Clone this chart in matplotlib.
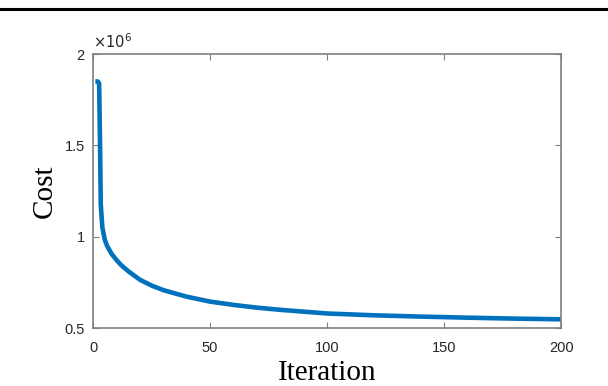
import matplotlib.pyplot as plt
from matplotlib.lines import Line2D
from matplotlib.ticker import FuncFormatter

# cost per iteration
iterations = [1, 2, 2.6, 3, 3.3, 3.6, 4, 5, 6, 8, 10, 12, 15, 20, 25, 30, 40,
              50, 60, 70, 80, 90, 100, 120, 140, 160, 180, 200]
cost = [1.85e6, 1.85e6, 1.84e6, 1.50e6, 1.18e6, 1.12e6, 1.05e6, 0.985e6,
        0.95e6, 0.905e6, 0.873e6, 0.845e6, 0.812e6, 0.765e6, 0.733e6,
        0.708e6, 0.672e6, 0.645e6, 0.627e6, 0.612e6, 0.600e6, 0.590e6,
        0.580e6, 0.570e6, 0.563e6, 0.557e6, 0.552e6, 0.548e6]

x_ticks = [0, 50, 100, 150, 200]
y_ticks = [0.5e6, 1e6, 1.5e6, 2e6]

fig = plt.figure(figsize=(6.08, 3.86), dpi=100)
ax = fig.add_axes([0.153, 0.150, 0.770, 0.710])

ax.plot(iterations, cost, color='#0072BD', lw=3.3, solid_capstyle='butt')

ax.set_xlim(0, 200)
ax.set_ylim(0.5e6, 2e6)
ax.set_xticks(x_ticks)
ax.set_yticks(y_ticks)
ax.yaxis.set_major_formatter(FuncFormatter(lambda v, p: '%g' % (v / 1e6)))

for s in ax.spines.values():
    s.set_color('#7f7f7f')
    s.set_linewidth(1.2)
ax.tick_params(direction='in', length=4, width=0.8, color='#7f7f7f',
               top=True, right=True, labelsize=10.5, labelcolor='#262626')
ax.tick_params(axis='x', pad=9)
ax.tick_params(axis='y', pad=6)
for lab in ax.get_xticklabels() + ax.get_yticklabels():
    lab.set_family('Liberation Sans')

ax.text(0.0, 1.01, r'$\times10^{6}$', transform=ax.transAxes, fontsize=10.5,
        color='#262626', ha='left', va='bottom', family='Liberation Sans')

ax.set_xlabel('Iteration', family='Liberation Serif', fontsize=21, labelpad=4)
ax.set_ylabel('Cost', family='Liberation Serif', fontsize=21, labelpad=5)

# rule from the page the figure was cut from
fig.add_artist(Line2D([0, 1], [0.976, 0.976], color='black', lw=2.2,
                      transform=fig.transFigure))

fig.savefig('out.png', dpi=100)
